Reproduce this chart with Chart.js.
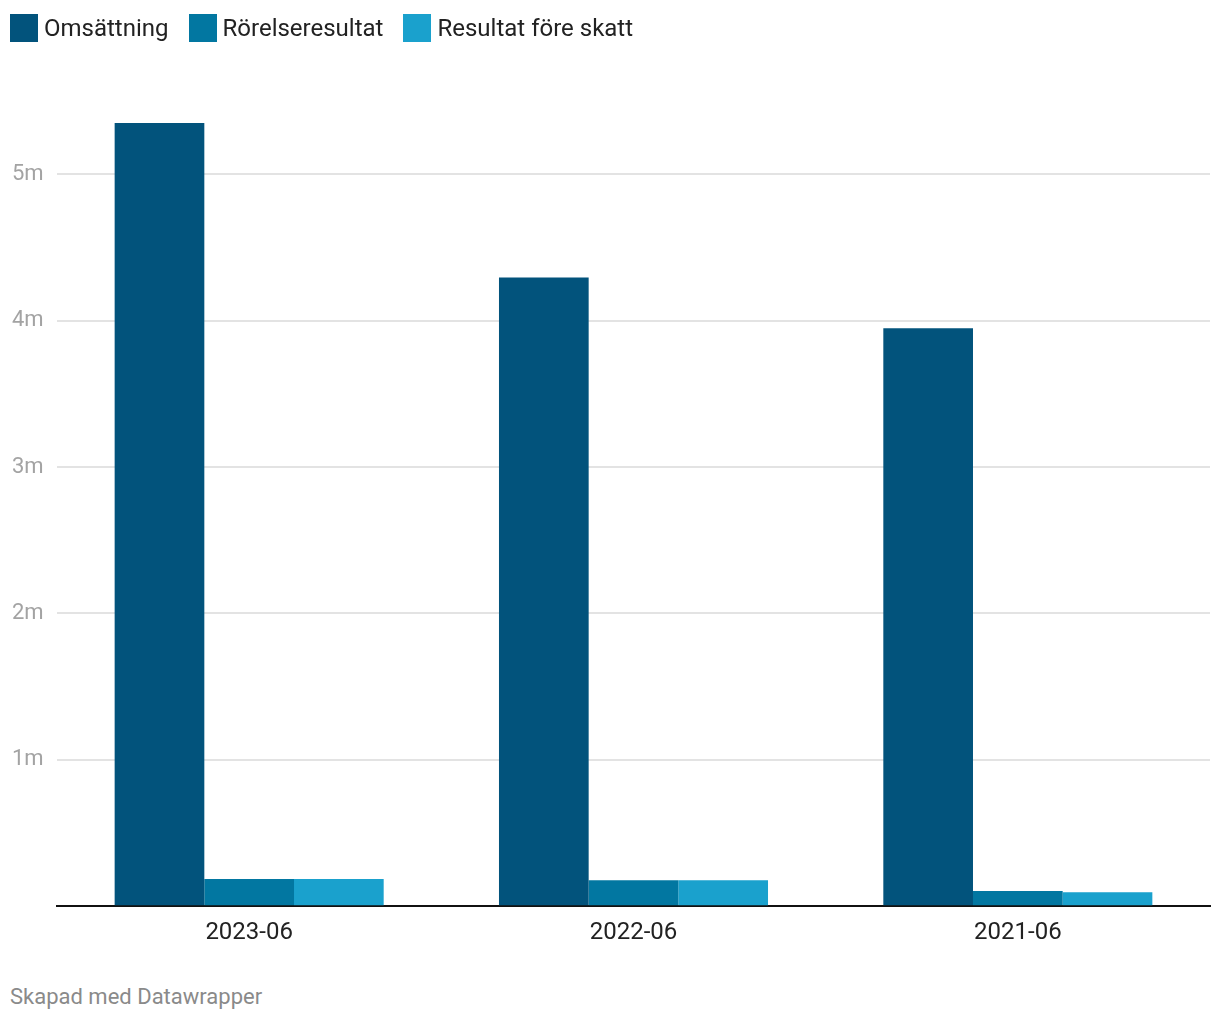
<!DOCTYPE html>
<html>
<head>
<meta charset="utf-8">
<script src="https://cdn.jsdelivr.net/npm/chart.js@4.4.1/dist/chart.umd.min.js"></script>
<style>
  body { margin: 0; background: #fff; font-family: Roboto, sans-serif; }
  #wrap { position: relative; width: 1220px; height: 1020px; }
  #legend { position: absolute; left: 10px; top: 14px; display: flex; font-size: 24px; line-height: 28px; color: #222; }
  .item { display: flex; align-items: center; margin-right: 20px; }
  .box { width: 28px; height: 28px; margin-right: 6px; }
  #chartBox { position: absolute; left: 0; top: 0; width: 1220px; height: 960px; }
  #footer { position: absolute; left: 10px; top: 984px; font-size: 22px; color: #8a8a8a; }
</style>
</head>
<body>
<div id="wrap">
  <div id="chartBox"><canvas id="chart"></canvas></div>
  <div id="legend"></div>
  <div id="footer">Skapad med Datawrapper</div>
</div>
<script>
const periods = ['2023-06', '2022-06', '2021-06'];
const seriesNames = ['Omsättning', 'Rörelseresultat', 'Resultat före skatt'];
// values in millions
const omsattning = [5.35, 4.295, 3.947];
const rorelseresultat = [0.185, 0.178, 0.103];
const resultatForeSkatt = [0.185, 0.178, 0.096];
const yTicks = [1, 2, 3, 4, 5];
const colors = ['#02537c', '#0277a1', '#1aa1cd'];

const seriesData = [omsattning, rorelseresultat, resultatForeSkatt];

// legend as html
const legend = document.getElementById('legend');
seriesNames.forEach((name, i) => {
    const item = document.createElement('div');
    item.className = 'item';
    item.innerHTML = `<span class="box" style="background:${colors[i]}"></span><span>${name}</span>`;
    legend.appendChild(item);
});

const ctx = document.getElementById('chart').getContext('2d');
new Chart(ctx, {
    type: 'bar',
    data: {
        labels: periods,
        datasets: seriesNames.map((name, i) => ({
            label: name,
            data: seriesData[i],
            backgroundColor: colors[i],
            categoryPercentage: 0.7,
            barPercentage: 1.0
        }))
    },
    options: {
        responsive: true,
        maintainAspectRatio: false,
        animation: false,
        layout: { padding: { left: 12, right: 10, top: 101, bottom: 9 } },
        plugins: {
            legend: { display: false },
            tooltip: { enabled: false }
        },
        scales: {
            x: {
                grid: { display: false },
                border: { display: true, color: '#111', width: 2 },
                ticks: { color: '#222', font: { family: 'Roboto', size: 24 }, padding: 4 }
            },
            y: {
                min: 0,
                max: 5.5,
                afterFit: scale => { scale.width = 45; },
                afterBuildTicks: scale => {
                    scale.ticks = [0].concat(yTicks).map(v => ({ value: v }));
                },
                border: { display: false },
                grid: {
                    drawTicks: false,
                    color: c => (c.tick && c.tick.value > 0) ? '#e3e3e3' : 'transparent',
                    lineWidth: 2
                },
                ticks: {
                    color: '#a3a3a3',
                    crossAlign: 'far',
                    padding: 0,
                    font: { family: 'Roboto', size: 22 },
                    callback: v => v > 0 ? v + 'm' : ''
                }
            }
        }
    }
});
</script>
</body>
</html>
